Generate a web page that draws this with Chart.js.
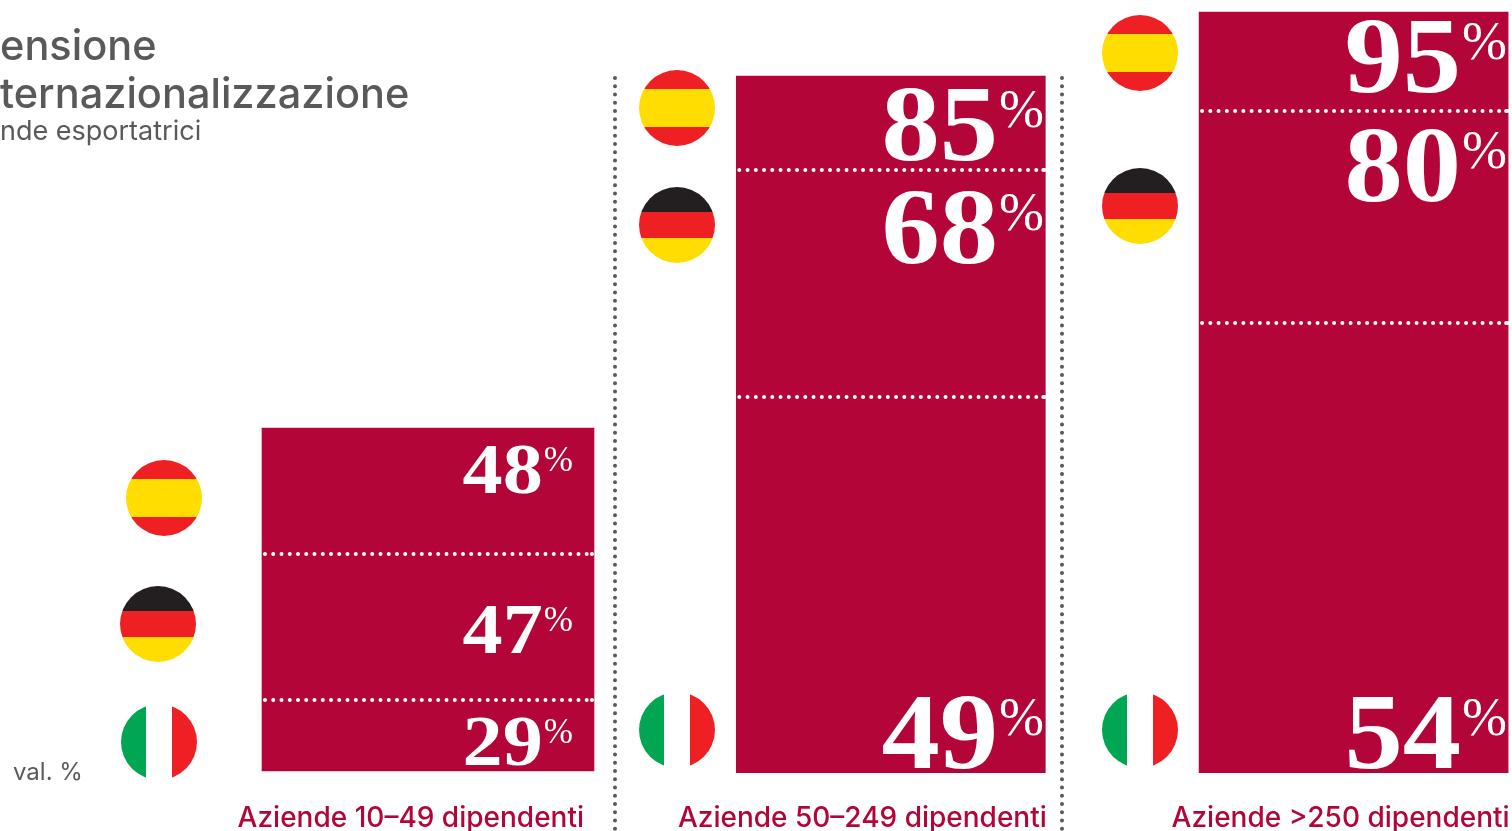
<!DOCTYPE html>
<html lang="it">
<head>
<meta charset="utf-8">
<title>Dimensione e internazionalizzazione</title>
<script src="https://cdn.jsdelivr.net/npm/chart.js@4"></script>
<style>
	html, body { margin: 0; background: #fff; width: 1512px; height: 831px; overflow: hidden; }
	#chart { position: absolute; left: 0; top: 0; }
	.txt { position: absolute; color: #58595b; font-family: Inter, sans-serif; white-space: nowrap; }
	.flag { position: absolute; width: 76px; height: 76px; border-radius: 50%; }
	.es { background: linear-gradient(#ee2024 25%, #ffdd00 25%, #ffdd00 75%, #ee2024 75%); }
	.de { background: linear-gradient(#231f20 33.3%, #ee2024 33.3%, #ee2024 66.6%, #ffdd00 66.6%); }
	.it { background: linear-gradient(90deg, #00a651 33.3%, #fff 33.3%, #fff 66.6%, #ee2024 66.6%); }
</style>
</head>
<body>
<canvas id="chart" width="1585" height="831"></canvas>

<div class="txt" style="left:0;top:20px;font-size:41.5px;font-weight:500">ensione</div>
<div class="txt" style="left:0;top:68px;font-size:41.5px;font-weight:500">ternazionalizzazione</div>
<div class="txt" style="left:0;top:114px;font-size:27px">nde esportatrici</div>
<div class="txt" style="left:13px;top:757px;font-size:24px">val. %</div>

<div class="flag es" style="left:126px;top:460px"></div>
<div class="flag de" style="left:120px;top:586px"></div>
<div class="flag it" style="left:121px;top:704px"></div>
<div class="flag es" style="left:639px;top:70px"></div>
<div class="flag de" style="left:639px;top:187px"></div>
<div class="flag it" style="left:639px;top:692px"></div>
<div class="flag es" style="left:1102px;top:15px"></div>
<div class="flag de" style="left:1102px;top:168px"></div>
<div class="flag it" style="left:1102px;top:692px"></div>

<script>
var categories = ["Aziende 10–49 dipendenti", "Aziende 50–249 dipendenti", "Aziende >250 dipendenti"];
var italyValues = [29, 49, 54];
var germanyValues = [47, 68, 80];
var spainValues = [48, 85, 95];

// the sections of each column are not to scale with the percentages,
// so the separators keep their own levels on the column's axis
var lowerDividers = [10, 45.9, 56.2];
var upperDividers = [30.3, 73.5, 82.7];

var CRIMSON = "#b30537";
var GREY = "#58595b";

// number baselines for [spain, germany, italy] in each column
var labelBaselines = [[493, 653, 765], [160, 263, 768], [92, 201, 768]];
var labelRight = [573, 1044, 1507];
var numberSize = [71, 108, 108];
var numberStretch = [1.13, 1.08, 1.08];
var percentSize = [35, 54, 54];

function dotted(ctx, x1, y1, x2, y2, color, width) {
	ctx.save();
	ctx.strokeStyle = color;
	ctx.lineWidth = width;
	ctx.lineCap = "round";
	ctx.setLineDash([0, 8.25]);
	ctx.beginPath();
	ctx.moveTo(x1, y1);
	ctx.lineTo(x2, y2);
	ctx.stroke();
	ctx.restore();
}

// separators inside the columns, value labels, and the rules between columns
var columnDecor = {
	id: "columnDecor",
	afterDatasetsDraw: function (chart) {
		var ctx = chart.ctx;
		categories.forEach(function (name, i) {
			var bar = chart.getDatasetMeta(i).data[i];
			var yScale = chart.scales["y" + i];
			var left = bar.x - bar.width / 2;
			var right = bar.x + bar.width / 2;
			[lowerDividers[i], upperDividers[i]].forEach(function (level) {
				var y = Math.round(yScale.getPixelForValue(level));
				dotted(ctx, left + 3, y, right, y, "#fff", 4);
				// closing dot on the column's edge
				dotted(ctx, right - 2, y, right - 2.5, y, "#fff", 4);
			});

			[spainValues[i], germanyValues[i], italyValues[i]].forEach(function (value, row) {
				var base = labelBaselines[i][row];
				ctx.save();
				ctx.fillStyle = "#fff";
				ctx.textAlign = "right";
				ctx.textBaseline = "alphabetic";
				ctx.font = percentSize[i] + "px 'Liberation Serif'";
				ctx.fillText("%", labelRight[i], base - percentSize[i] * 0.62);
				var percentWidth = ctx.measureText("%").width;
				ctx.font = "bold " + numberSize[i] + "px 'Liberation Serif'";
				ctx.translate(labelRight[i] - percentWidth - 1, base);
				ctx.scale(numberStretch[i], 1);
				ctx.fillText(String(value), 0, 0);
				ctx.restore();
			});
		});
		dotted(ctx, 615, 78, 615, 830, GREY, 4);
		dotted(ctx, 1062, 78, 1062, 830, GREY, 4);
	}
};

var ctx = document.getElementById("chart").getContext("2d");
new Chart(ctx, {
	type: "bar",
	plugins: [columnDecor],
	data: {
		labels: categories,
		datasets: [
			{ data: [spainValues[0], null, null], yAxisID: "y0", barThickness: 332, backgroundColor: CRIMSON, grouped: false },
			{ data: [null, spainValues[1], null], yAxisID: "y1", barThickness: 309, backgroundColor: CRIMSON, grouped: false },
			{ data: [null, null, spainValues[2]], yAxisID: "y2", barThickness: 309, backgroundColor: CRIMSON, grouped: false }
		]
	},
	options: {
		responsive: false,
		animation: false,
		layout: { padding: { left: 196.6, right: 0, top: 0, bottom: 0 } },
		plugins: { legend: { display: false }, tooltip: { enabled: false } },
		scales: {
			x: {
				grid: { display: false },
				border: { display: false },
				afterFit: function (scale) { scale.height = 58; },
				ticks: {
					align: "end",
					labelOffset: 156,
					padding: 21,
					autoSkip: false,
					maxRotation: 0,
					color: CRIMSON,
					font: { family: "Inter", size: 28, weight: "500" }
				}
			},
			// every column has its own vertical scale
			y0: { display: false, min: -0.28, max: 107.9 },
			y1: { display: false, min: 0, max: 94.27 },
			y2: { display: false, min: 0, max: 96.5 }
		}
	}
});
</script>
</body>
</html>
